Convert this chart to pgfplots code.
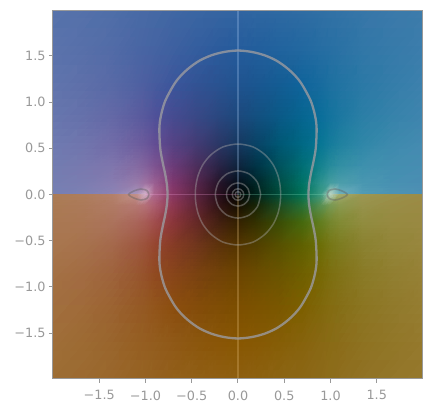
\documentclass[border=0pt]{standalone}
\usepackage{pgfplots}
\pgfplotsset{compat=1.18}
\usepackage{fontspec}
\setmainfont{DejaVu Sans}
\definecolor{tickgray}{gray}{0.6}
\pgfplotsset{
  contour/.style={smooth,no markers,forget plot,line width=#1},
  outer/.style={contour=2.3pt,color={rgb,255:red,155;green,155;blue,160},opacity=0.8},
  inner/.style={contour=1.5pt,color={rgb,255:red,170;green,170;blue,170},opacity=0.42},
  drop/.style={contour=1.6pt,color={rgb,255:red,95;green,95;blue,95},opacity=0.42},
  cross/.style={sharp plot,no markers,forget plot,line width=1.4pt,opacity=0.28},
}
\begin{document}
\begin{tikzpicture}[x=1pt,y=1pt]
\useasboundingbox (-53,-34.5) rectangle (379,378.5);
\begin{axis}[at={(0,0)},anchor=south west,width=370pt,height=368pt,scale only axis,
 xmin=-2,xmax=2,ymin=-1.99,ymax=1.99,
 xtick={-1.5,-1,-0.5,0,0.5,1,1.5},ytick={-1.5,-1,-0.5,0,0.5,1,1.5},
 xticklabels={−1.5,−1.0,−0.5,0.0,0.5,1.0,1.5},
 yticklabels={−1.5,−1.0,−0.5,0.0,0.5,1.0,1.5},
 tick label style={font=\fontsize{12.8}{15}\selectfont,text=tickgray},
 xticklabel style={yshift=-4.5pt},
 axis line style={tickgray,line width=1pt},
 tick style={tickgray,line width=1pt},
 tick align=outside,major tick length=4pt,
 xtick pos=bottom,ytick pos=left,
 axis on top]
\addplot[surf,shader=interp,mesh/color input=explicit mathparse,mesh/cols=19,forget plot,
  point meta={symbolic={\thisrow{r}/255,\thisrow{g}/255,\thisrow{b}/255}}] table[x=x,y=y,row sep=crcr] {
x y r g b\\
-2 2 87 115 171\\ -1.65 2 84 112 170\\ -1.35 2 79 110 168\\ -1.1 2 73 106 166\\ -1 2 72 105 165\\ -0.9 2 69 104 164\\ -0.7 2 64 102 163\\ -0.45 2 58 101 162\\ -0.2 2 53 100 161\\ 0 2 49 100 161\\ 0.2 2 47 102 161\\ 0.45 2 46 105 162\\ 0.7 2 47 108 163\\ 0.9 2 48 111 164\\ 1 2 49 113 165\\ 1.1 2 50 114 166\\ 1.35 2 54 118 168\\ 1.65 2 58 121 170\\ 2 2 61 124 171\\
-2 1.6 91 115 172\\ -1.65 1.6 87 111 169\\ -1.35 1.6 82 107 167\\ -1.1 1.6 74 102 164\\ -1 1.6 72 100 163\\ -0.9 1.6 69 99 162\\ -0.7 1.6 62 96 160\\ -0.45 1.6 52 93 158\\ -0.2 1.6 43 91 156\\ 0 1.6 37 92 156\\ 0.2 1.6 34 94 156\\ 0.45 1.6 33 99 158\\ 0.7 1.6 34 104 160\\ 0.9 1.6 38 109 162\\ 1 1.6 39 111 163\\ 1.1 1.6 42 113 164\\ 1.35 1.6 49 119 167\\ 1.65 1.6 54 122 169\\ 2 1.6 60 125 172\\
-2 1.2 97 117 173\\ -1.65 1.2 94 111 169\\ -1.35 1.2 88 105 166\\ -1.1 1.2 80 98 162\\ -1 1.2 77 94 160\\ -0.9 1.2 71 91 158\\ -0.7 1.2 60 85 155\\ -0.45 1.2 50 82 147\\ -0.2 1.2 41 82 144\\ 0 1.2 32 83 143\\ 0.2 1.2 26 86 144\\ 0.45 1.2 19 92 147\\ 0.7 1.2 15 100 155\\ 0.9 1.2 23 107 158\\ 1 1.2 29 112 160\\ 1.1 1.2 33 115 162\\ 1.35 1.2 43 121 166\\ 1.65 1.2 52 125 169\\ 2 1.2 61 129 173\\
-2 0.85 104 119 174\\ -1.65 0.85 102 112 170\\ -1.35 0.85 100 104 166\\ -1.1 0.85 92 93 159\\ -1 0.85 87 88 156\\ -0.9 0.85 80 81 153\\ -0.7 0.85 70 75 144\\ -0.45 0.85 57 72 134\\ -0.2 0.85 41 71 127\\ 0 0.85 28 72 124\\ 0.2 0.85 19 79 127\\ 0.45 0.85 10 89 134\\ 0.7 0.85 6 101 144\\ 0.9 0.85 10 110 154\\ 1 0.85 19 115 157\\ 1.1 0.85 27 119 160\\ 1.35 0.85 43 127 166\\ 1.65 0.85 54 131 170\\ 2 0.85 63 133 174\\
-2 0.55 111 123 177\\ -1.65 0.55 113 117 173\\ -1.35 0.55 114 108 168\\ -1.1 0.55 110 95 159\\ -1 0.55 106 88 154\\ -0.9 0.55 99 78 148\\ -0.7 0.55 86 66 132\\ -0.45 0.55 67 59 116\\ -0.2 0.55 42 55 102\\ 0 0.55 22 56 96\\ 0.2 0.55 9 67 102\\ 0.45 0.55 0 87 116\\ 0.7 0.55 0 104 132\\ 0.9 0.55 7 118 148\\ 1 0.55 21 124 155\\ 1.1 0.55 31 129 159\\ 1.35 0.55 47 135 168\\ 1.65 0.55 61 138 173\\ 2 0.55 69 139 177\\
-2 0.3 115 125 177\\ -1.65 0.3 121 121 175\\ -1.35 0.3 128 118 173\\ -1.1 0.3 133 108 163\\ -1 0.3 131 98 156\\ -0.9 0.3 126 84 145\\ -0.7 0.3 108 59 120\\ -0.45 0.3 77 46 92\\ -0.2 0.3 40 35 69\\ 0 0.3 14 35 60\\ 0.2 0.3 0 51 69\\ 0.45 0.3 0 82 92\\ 0.7 0.3 0 110 116\\ 0.9 0.3 22 131 143\\ 1 0.3 40 140 155\\ 1.1 0.3 51 144 163\\ 1.35 0.3 62 145 173\\ 1.65 0.3 67 143 176\\ 2 0.3 72 141 178\\
-2 0.12 117 127 178\\ -1.65 0.12 124 125 177\\ -1.35 0.12 136 125 177\\ -1.1 0.12 152 124 171\\ -1 0.12 159 115 162\\ -0.9 0.12 155 96 146\\ -0.7 0.12 127 55 109\\ -0.45 0.12 86 38 76\\ -0.2 0.12 38 20 41\\ 0 0.12 6 14 25\\ 0.2 0.12 0 38 39\\ 0.45 0.12 0 78 69\\ 0.7 0.12 0 114 100\\ 0.9 0.12 45 146 140\\ 1 0.12 69 157 159\\ 1.1 0.12 76 158 170\\ 1.35 0.12 74 152 177\\ 1.65 0.12 72 146 178\\ 2 0.12 75 142 179\\
-2 0.001 118 128 180\\ -1.65 0.001 126 129 180\\ -1.35 0.001 140 132 181\\ -1.1 0.001 167 149 188\\ -1 0.001 208 175 200\\ -0.9 0.001 172 103 142\\ -0.7 0.001 137 55 100\\ -0.45 0.001 90 36 66\\ -0.2 0.001 40 16 30\\ 0 0.001 0 0 0\\ 0.2 0.001 0 34 26\\ 0.45 0.001 0 75 57\\ 0.7 0.001 0 114 86\\ 0.9 0.001 58 153 130\\ 1 0.001 185 212 195\\ 1.1 0.001 110 175 188\\ 1.35 0.001 82 156 181\\ 1.65 0.001 78 148 180\\ 2 0.001 78 143 180\\
-2 -0.001 171 124 85\\ -1.65 -0.001 174 125 92\\ -1.35 -0.001 179 128 106\\ -1.1 -0.001 193 144 137\\ -1 -0.001 208 175 200\\ -0.9 -0.001 172 103 142\\ -0.7 -0.001 137 55 100\\ -0.45 -0.001 90 36 66\\ -0.2 -0.001 40 16 30\\ 0 -0.001 0 0 0\\ 0.2 -0.001 0 34 26\\ 0.45 -0.001 0 75 57\\ 0.7 -0.001 0 114 86\\ 0.9 -0.001 58 153 130\\ 1 -0.001 185 212 195\\ 1.1 -0.001 163 171 110\\ 1.35 -0.001 156 151 82\\ 1.65 -0.001 155 144 74\\ 2 -0.001 156 139 70\\
-2 -0.12 170 122 83\\ -1.65 -0.12 172 121 89\\ -1.35 -0.12 176 122 100\\ -1.1 -0.12 180 119 113\\ -1 -0.12 180 112 119\\ -0.9 -0.12 172 94 113\\ -0.7 -0.12 141 55 82\\ -0.45 -0.12 96 37 54\\ -0.2 -0.12 48 19 21\\ 0 -0.12 22 14 0\\ 0.2 -0.12 23 36 6\\ 0.45 -0.12 28 75 33\\ 0.7 -0.12 36 111 55\\ 0.9 -0.12 87 143 82\\ 1 -0.12 119 153 83\\ 1.1 -0.12 137 153 79\\ 1.35 -0.12 150 146 74\\ 1.65 -0.12 152 141 69\\ 2 -0.12 154 138 67\\
-2 -0.3 169 120 81\\ -1.65 -0.3 170 118 84\\ -1.35 -0.3 171 114 91\\ -1.1 -0.3 169 101 89\\ -1 -0.3 167 92 85\\ -0.9 -0.3 161 78 77\\ -0.7 -0.3 139 54 58\\ -0.45 -0.3 103 41 39\\ -0.2 -0.3 67 32 17\\ 0 -0.3 53 33 0\\ 0.2 -0.3 51 48 0\\ 0.45 -0.3 58 76 5\\ 0.7 -0.3 69 104 13\\ 0.9 -0.3 98 125 31\\ 1 -0.3 116 133 44\\ 1.1 -0.3 128 138 51\\ 1.35 -0.3 144 140 62\\ 1.65 -0.3 150 138 64\\ 2 -0.3 153 137 65\\
-2 -0.55 168 118 77\\ -1.65 -0.55 166 113 76\\ -1.35 -0.55 164 104 74\\ -1.1 -0.55 158 89 65\\ -1 -0.55 155 81 57\\ -0.9 -0.55 150 71 47\\ -0.7 -0.55 134 60 37\\ -0.45 -0.55 113 54 28\\ -0.2 -0.55 93 51 11\\ 0 -0.55 84 53 0\\ 0.2 -0.55 82 63 0\\ 0.45 -0.55 87 80 0\\ 0.7 -0.55 95 96 0\\ 0.9 -0.55 108 110 7\\ 1 -0.55 118 118 21\\ 1.1 -0.55 124 123 31\\ 1.35 -0.55 138 129 47\\ 1.65 -0.55 146 133 56\\ 2 -0.55 152 134 61\\
-2 -0.85 164 113 68\\ -1.65 -0.85 162 107 65\\ -1.35 -0.85 158 99 59\\ -1.1 -0.85 152 88 48\\ -1 -0.85 149 82 42\\ -0.9 -0.85 145 75 33\\ -0.7 -0.85 136 69 26\\ -0.45 -0.85 123 66 17\\ -0.2 -0.85 113 66 8\\ 0 -0.85 108 68 0\\ 0.2 -0.85 106 75 0\\ 0.45 -0.85 106 84 0\\ 0.7 -0.85 111 95 0\\ 0.9 -0.85 119 104 5\\ 1 -0.85 124 110 15\\ 1.1 -0.85 128 114 22\\ 1.35 -0.85 137 122 37\\ 1.65 -0.85 144 126 47\\ 2 -0.85 150 129 54\\
-2 -1.2 161 111 61\\ -1.65 -1.2 159 106 56\\ -1.35 -1.2 155 99 49\\ -1.1 -1.2 150 91 38\\ -1 -1.2 148 89 34\\ -0.9 -1.2 146 85 27\\ -0.7 -1.2 140 78 15\\ -0.45 -1.2 132 76 10\\ -0.2 -1.2 127 77 5\\ 0 -1.2 124 78 0\\ 0.2 -1.2 123 82 0\\ 0.45 -1.2 122 87 0\\ 0.7 -1.2 125 95 0\\ 0.9 -1.2 128 103 11\\ 1 -1.2 132 107 17\\ 1.1 -1.2 133 110 22\\ 1.35 -1.2 139 117 33\\ 1.65 -1.2 144 121 42\\ 2 -1.2 149 125 49\\
-2 -1.6 159 110 56\\ -1.65 -1.6 156 106 50\\ -1.35 -1.6 153 101 44\\ -1.1 -1.6 150 96 35\\ -1 -1.6 149 94 33\\ -0.9 -1.6 147 93 30\\ -0.7 -1.6 144 89 23\\ -0.45 -1.6 140 87 14\\ -0.2 -1.6 138 86 7\\ 0 -1.6 136 87 2\\ 0.2 -1.6 135 89 4\\ 0.45 -1.6 134 94 7\\ 0.7 -1.6 135 99 13\\ 0.9 -1.6 137 104 20\\ 1 -1.6 138 107 22\\ 1.1 -1.6 139 108 25\\ 1.35 -1.6 142 114 33\\ 1.65 -1.6 145 118 39\\ 2 -1.6 149 121 45\\
-2 -2 157 110 52\\ -1.65 -2 156 107 49\\ -1.35 -2 154 104 44\\ -1.1 -2 151 101 37\\ -1 -2 150 100 35\\ -0.9 -2 149 98 33\\ -0.7 -2 147 97 27\\ -0.45 -2 145 96 23\\ -0.2 -2 144 95 19\\ 0 -2 142 95 16\\ 0.2 -2 142 97 17\\ 0.45 -2 141 101 20\\ 0.7 -2 141 103 22\\ 0.9 -2 142 106 26\\ 1 -2 142 109 28\\ 1.1 -2 143 109 29\\ 1.35 -2 145 113 36\\ 1.65 -2 147 117 40\\ 2 -2 149 120 44\\
};
% lines along the axes
\addplot[cross,color={rgb,255:red,175;green,205;blue,245}] coordinates {(0,0) (0,2)};
\addplot[cross,color={rgb,255:red,235;green,195;blue,130}] coordinates {(0,0) (0,-2)};
\addplot[cross,color={rgb,255:red,240;green,160;blue,215}] coordinates {(-1,0) (0,0)};
\addplot[cross,color={rgb,255:red,140;green,225;blue,190}] coordinates {(0,0) (1,0)};
% level curves
\addplot[outer] coordinates {(0.762,0) (0.765,0.074) (0.775,0.153) (0.792,0.244) (0.816,0.355) (0.841,0.503) (0.85,0.714) (0.833,0.853) (0.786,1.015) (0.69,1.193) (0.618,1.285) (0.527,1.37) (0.417,1.447) (0.289,1.505) (0.148,1.542) (0,1.557) (-0.148,1.542) (-0.289,1.505) (-0.417,1.447) (-0.527,1.37) (-0.618,1.285) (-0.69,1.193) (-0.786,1.015) (-0.833,0.853) (-0.85,0.714) (-0.841,0.503) (-0.816,0.355) (-0.792,0.244) (-0.775,0.153) (-0.765,0.074) (-0.762,0) (-0.765,-0.074) (-0.775,-0.153) (-0.792,-0.244) (-0.816,-0.355) (-0.841,-0.503) (-0.85,-0.714) (-0.833,-0.853) (-0.786,-1.015) (-0.69,-1.193) (-0.618,-1.285) (-0.527,-1.37) (-0.417,-1.447) (-0.289,-1.505) (-0.148,-1.542) (0,-1.557) (0.148,-1.542) (0.289,-1.505) (0.417,-1.447) (0.527,-1.37) (0.618,-1.285) (0.69,-1.193) (0.786,-1.015) (0.833,-0.853) (0.85,-0.714) (0.841,-0.503) (0.816,-0.355) (0.792,-0.244) (0.775,-0.153) (0.765,-0.074) (0.762,0)};
\addplot[inner] coordinates {(0.462,0) (0.454,0.104) (0.43,0.21) (0.38,0.322) (0.293,0.429) (0.164,0.514) (0,0.546) (-0.164,0.514) (-0.293,0.429) (-0.38,0.322) (-0.43,0.21) (-0.454,0.104) (-0.462,0) (-0.454,-0.104) (-0.43,-0.21) (-0.38,-0.322) (-0.293,-0.429) (-0.164,-0.514) (0,-0.546) (0.164,-0.514) (0.293,-0.429) (0.38,-0.322) (0.43,-0.21) (0.454,-0.104) (0.462,0)};
\addplot[inner] coordinates {(0.245,0) (0.212,0.128) (0.123,0.221) (0,0.255) (-0.123,0.221) (-0.212,0.128) (-0.245,0) (-0.212,-0.128) (-0.123,-0.221) (0,-0.255) (0.123,-0.221) (0.212,-0.128) (0.245,0)};
\addplot[inner] coordinates {(0.125,0) (0.108,0.0625) (0.0625,0.108) (0,0.125) (-0.0625,0.108) (-0.108,0.0625) (-0.125,0) (-0.108,-0.0625) (-0.0625,-0.108) (0,-0.125) (0.0625,-0.108) (0.108,-0.0625) (0.125,0)};
\addplot[inner] coordinates {(0.0625,0) (0.054,0.031) (0.031,0.054) (0,0.0625) (-0.031,0.054) (-0.054,0.031) (-0.0625,0) (-0.054,-0.031) (-0.031,-0.054) (0,-0.0625) (0.031,-0.054) (0.054,-0.031) (0.0625,0)};
\addplot[inner] coordinates {(0.031,0) (0.022,0.022) (0,0.031) (-0.022,0.022) (-0.031,0) (-0.022,-0.022) (0,-0.031) (0.022,-0.022) (0.031,0)};
\addplot[drop] coordinates {(0.964,0) (0.971,0.024) (0.988,0.045) (1.049,0.0595) (1.118,0.041) (1.183,0) (1.118,-0.041) (1.049,-0.0595) (0.988,-0.045) (0.971,-0.024) (0.964,0)};
\addplot[drop] coordinates {(-0.964,0) (-0.971,0.024) (-0.988,0.045) (-1.049,0.0595) (-1.118,0.041) (-1.183,0) (-1.118,-0.041) (-1.049,-0.0595) (-0.988,-0.045) (-0.971,-0.024) (-0.964,0)};
\end{axis}
\end{tikzpicture}
\end{document}
